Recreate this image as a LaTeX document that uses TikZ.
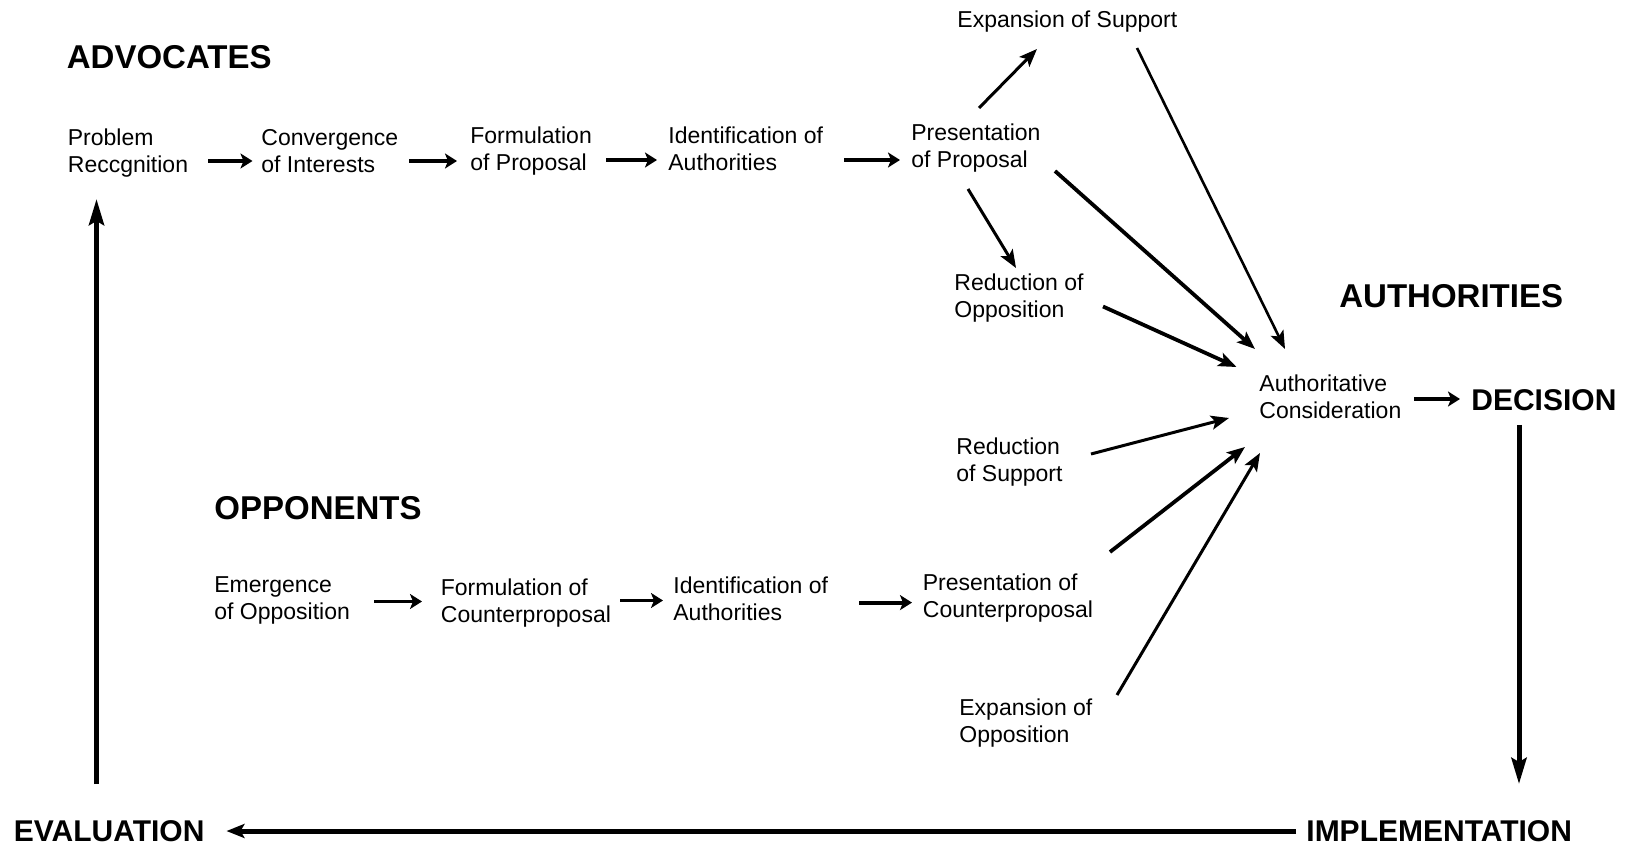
\documentclass[tikz,border=0pt]{standalone}
\usepackage{fontspec}
\setmainfont{Liberation Sans}
\usetikzlibrary{arrows.meta}
\begin{document}
\begin{tikzpicture}[x=0.5pt,y=-0.5pt,
  lbl/.style={anchor=west,align=left,inner sep=0pt,font=\fontsize{11.5}{13.5}\selectfont},
  head/.style={anchor=west,inner sep=0pt,font=\fontsize{16.5}{18}\selectfont\bfseries},
  stage/.style={anchor=west,inner sep=0pt,font=\fontsize{15}{17}\selectfont\bfseries},
  rowarr/.style={line width=2.2pt,-{Stealth[length=6pt,width=7.5pt,inset=1.5pt]}},
  diag/.style={line width=1.5pt,-{Stealth[length=9pt,width=7pt,inset=2pt]}},
  bigarr/.style={line width=2.5pt,-{Stealth[length=13pt,width=7.5pt,inset=2pt]}}]
\path[use as bounding box] (0,0) rectangle (1629,845);

% group headings
\node[head] (adv) at (66.5,57) {ADVOCATES};
\node[head] (auth) at (1339,296) {AUTHORITIES};
\node[head] (opp) at (214,508) {OPPONENTS};

% advocates' sequence
\node[lbl] (prob) at (67.5,153) {Problem\\Reccgnition};
\node[lbl] (conv) at (261,151) {Convergence\\of Interests};
\node[lbl] (form) at (470,151) {Formulation\\of Proposal};
\node[lbl] (iden) at (668,149) {Identification of\\Authorities};
\node[lbl] (pres) at (911,148) {Presentation\\of Proposal};
\node[lbl] (exps) at (957,22) {Expansion of Support};
\node[lbl] (redo) at (954,298) {Reduction of\\Opposition};

% authorities
\node[lbl] (ac) at (1259,397) {Authoritative\\Consideration};
\node[stage] (dec) at (1471,400) {DECISION};

% opponents' sequence
\node[lbl] (reds) at (956,462) {Reduction\\of Support};
\node[lbl] (emo) at (214,600) {Emergence\\of Opposition};
\node[lbl] (fcp) at (440.5,603) {Formulation of\\Counterproposal};
\node[lbl] (ida) at (673,599) {Identification of\\Authorities};
\node[lbl] (presc) at (922.5,598) {Presentation of\\Counterproposal};
\node[lbl] (expo) at (959,723) {Expansion of\\Opposition};

% outcome stages
\node[stage] (eval) at (13.5,831) {EVALUATION};
\node[stage] (impl) at (1306,831) {IMPLEMENTATION};

% advocates' row
\draw[rowarr] ([shift={(140.5,8)}]prob.west) -- ([shift={(-8.5,10)}]conv.west);
\draw[rowarr] ([shift={(148,10)}]conv.west) -- ([shift={(-13,10)}]form.west);
\draw[rowarr] ([shift={(136,9)}]form.west) -- ([shift={(-11,11)}]iden.west);
\draw[rowarr] ([shift={(176,11)}]iden.west) -- ([shift={(-11,12)}]pres.west);

% branches from the proposal
\draw[diag] ([shift={(68,-40)}]pres.west) -- ([shift={(80,27)}]exps.west);
\draw[diag] ([shift={(57,41)}]pres.west) -- ([shift={(62,-30)}]redo.west);
\draw[diag,line width=1.3pt] ([shift={(180,26)}]exps.west) -- ([shift={(26,-48)}]ac.west);
\draw[diag,line width=1.9pt] ([shift={(144,23)}]pres.west) -- ([shift={(-4,-48)}]ac.west);
\draw[diag,line width=1.9pt] ([shift={(149,8.5)}]redo.west) -- ([shift={(-22.5,-30)}]ac.west);

% opponents' row
\draw[rowarr,line width=1.9pt] ([shift={(160,1.5)}]emo.west) -- ([shift={(-18.5,-1.5)}]fcp.west);
\draw[rowarr,line width=1.9pt] ([shift={(179.5,-2.5)}]fcp.west) -- ([shift={(-10,1.5)}]ida.west);
\draw[rowarr,line width=1.9pt] ([shift={(186,3.6)}]ida.west) -- ([shift={(-10.5,4.6)}]presc.west);

% opponents' influence on the authorities
\draw[diag] ([shift={(135,-8)}]reds.west) -- ([shift={(-30,21)}]ac.west);
\draw[diag,line width=1.9pt] ([shift={(187.5,-46)}]presc.west) -- ([shift={(-14,50)}]ac.west);
\draw[diag] ([shift={(158,-28)}]expo.west) -- ([shift={(1,56)}]ac.west);

% policy cycle
\draw[rowarr] ([shift={(155,2)}]ac.west) -- ([shift={(-11,-1)}]dec.west);
\draw[bigarr] ([shift={(48,25)}]dec.west) -- ([shift={(213,-47)}]impl.west);
\draw[bigarr,-{Stealth[length=9pt,width=7pt,inset=2pt]}] ([shift={(-10,0)}]impl.west) -- ([shift={(213,0)}]eval.west);
\draw[bigarr] ([shift={(83,-47)}]eval.west) -- ([shift={(29,46)}]prob.west);
\end{tikzpicture}
\end{document}
